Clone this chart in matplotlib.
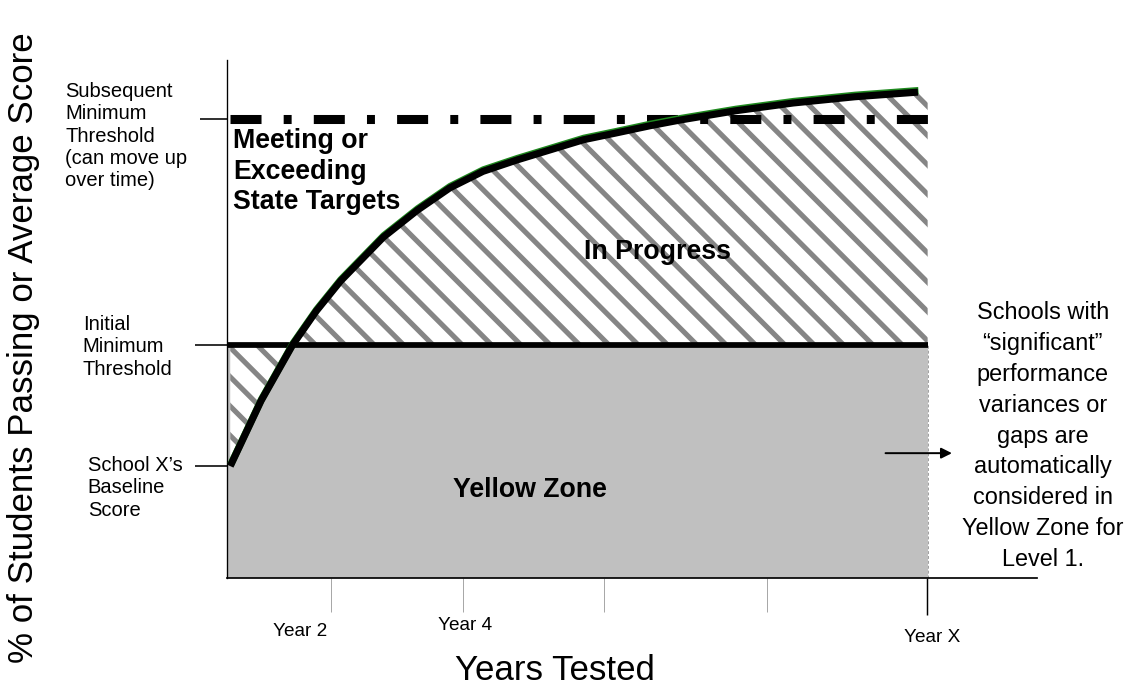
import matplotlib.pyplot as plt
from matplotlib import transforms

plt.rcParams['font.family'] = ['Liberation Sans', 'DejaVu Sans']
plt.rcParams['hatch.linewidth'] = 4.2

# x = share of the time span (%), y = % of students passing / score
curve_x = [0.4, 4.2, 8.1, 11.0, 14.0, 19.3, 23.5, 27.5, 31.6, 35.8, 44.0, 48.0,
           52.2, 55.9, 62.8, 69.9, 77.5, 85.3]
curve_y = [21.6, 34.2, 45.0, 51.5, 57.3, 65.8, 71.0, 75.3, 78.5, 80.7, 84.6, 85.9,
           87.3, 88.4, 90.2, 91.7, 92.9, 93.8]
baseline = 21.6
initial = 45.0
subsequent = 88.7
zone_end = 86.5
year_ticks = [12.8, 29.1, 46.6, 66.7]
year_x = 86.4
year_labels = ["Year 2", "Year 4", "Year X"]

dpi = 88
fig = plt.figure(figsize=(1131 / dpi, 685 / dpi), dpi=dpi)
ax = fig.add_axes([227 / 1131, 107 / 685, 810 / 1131, 518 / 685])
ax.set_xlim(0, 100)
ax.set_ylim(0, 100)
for s in ['top', 'right']:
    ax.spines[s].set_visible(False)
ax.spines['left'].set_linewidth(1.1)
ax.spines['bottom'].set_linewidth(1.4)

# yellow zone (grey) and the hatched "in progress" band
ax.fill_between([0, zone_end], 0, initial, color='#c0c0c0', lw=0, zorder=1)
hx = curve_x + [zone_end]
hy = curve_y + [curve_y[-1]]
ax.fill_between(hx, hy, initial, facecolor='white', edgecolor='#858585',
                hatch='\\', linewidth=0, zorder=2)
ax.plot([zone_end, zone_end], [0, initial], color='#a0a0a0', lw=0.8,
        ls=(0, (3, 2)), zorder=2)

# thresholds
ax.plot([0, zone_end], [initial, initial], color='black', lw=4.7,
        solid_capstyle='butt', zorder=3)
ax.plot([0.4, zone_end], [subsequent, subsequent], color='black', lw=7.4,
        ls=(0, (3.43, 2.45, 0.88, 2.45)), dash_capstyle='butt', zorder=3)

# school curve with its thin green edge
green_tr = transforms.offset_copy(ax.transData, fig=fig, x=0.5, y=1.6, units='dots')
ax.plot(curve_x, curve_y, color='#1f8a1f', lw=5.8, transform=green_tr,
        solid_capstyle='butt', solid_joinstyle='round', zorder=4)
ax.plot(curve_x, curve_y, color='black', lw=5.8, solid_capstyle='butt',
        solid_joinstyle='round', zorder=5)

# ticks
ax.set_xticks(year_ticks)
ax.set_xticks([year_x], minor=True)
ax.tick_params(axis='x', which='major', length=27.8, width=0.8, color='#a6a6a6',
               labelbottom=False)
ax.tick_params(axis='x', which='minor', length=30.3, width=1.2, color='black',
               labelbottom=False)
ax.set_yticks([baseline, initial])
ax.set_yticks([subsequent], minor=True)
ax.tick_params(axis='y', which='major', length=26, width=1.3, color='black',
               labelleft=False)
ax.tick_params(axis='y', which='minor', length=22, width=1.3, color='black',
               labelleft=False)

# labels on the left
ax.text(-20.0, 85.3, "Subsequent\nMinimum\nThreshold\n(can move up\nover time)",
        fontsize=16.5, ha='left', va='center', linespacing=1.22, clip_on=False)
ax.text(-17.8, 44.6, "Initial\nMinimum\nThreshold",
        fontsize=16.5, ha='left', va='center', linespacing=1.22, clip_on=False)
ax.text(-17.2, 17.4, "School X\u2019s\nBaseline\nScore",
        fontsize=16.5, ha='left', va='center', linespacing=1.22, clip_on=False)

# zone labels
ax.text(0.74, 78.4, "Meeting or\nExceeding\nState Targets", fontsize=21.9,
        fontweight='bold', ha='left', va='center', linespacing=1.23, zorder=6)
ax.text(53.2, 62.9, "In Progress", fontsize=21.9, fontweight='bold',
        ha='center', va='center', zorder=6)
ax.text(37.4, 17.0, "Yellow Zone", fontsize=21.9, fontweight='bold',
        ha='center', va='center', zorder=6)

# note on the right
ax.annotate("", xy=(89.8, 24.1), xytext=(81.0, 24.1),
            arrowprops=dict(arrowstyle='-|>', color='black', lw=1.6,
                            mutation_scale=18), zorder=6)
ax.text(100.7, 27.4, "Schools with\n\u201csignificant\u201d\nperformance\nvariances or\ngaps are\n"
        "automatically\nconsidered in\nYellow Zone for\nLevel 1.",
        fontsize=19.2, ha='center', va='center', multialignment='center',
        linespacing=1.44, clip_on=False)

# year labels and axis titles
fig.text(300 / 1131, 1 - 632 / 685, year_labels[0], fontsize=15.5, ha='center', va='center')
fig.text(465 / 1131, 1 - 626 / 685, year_labels[1], fontsize=15.5, ha='center', va='center')
fig.text(932 / 1131, 1 - 637 / 685, year_labels[2], fontsize=15.5, ha='center', va='center')
fig.text(555 / 1131, 1 - 670 / 685, "Years Tested", fontsize=28.5, ha='center', va='center')
fig.text(24 / 1131, 1 - 348 / 685, "% of Students Passing or Average Score",
         fontsize=28.5, rotation=90, ha='center', va='center')

fig.savefig('out.png', dpi=dpi)
